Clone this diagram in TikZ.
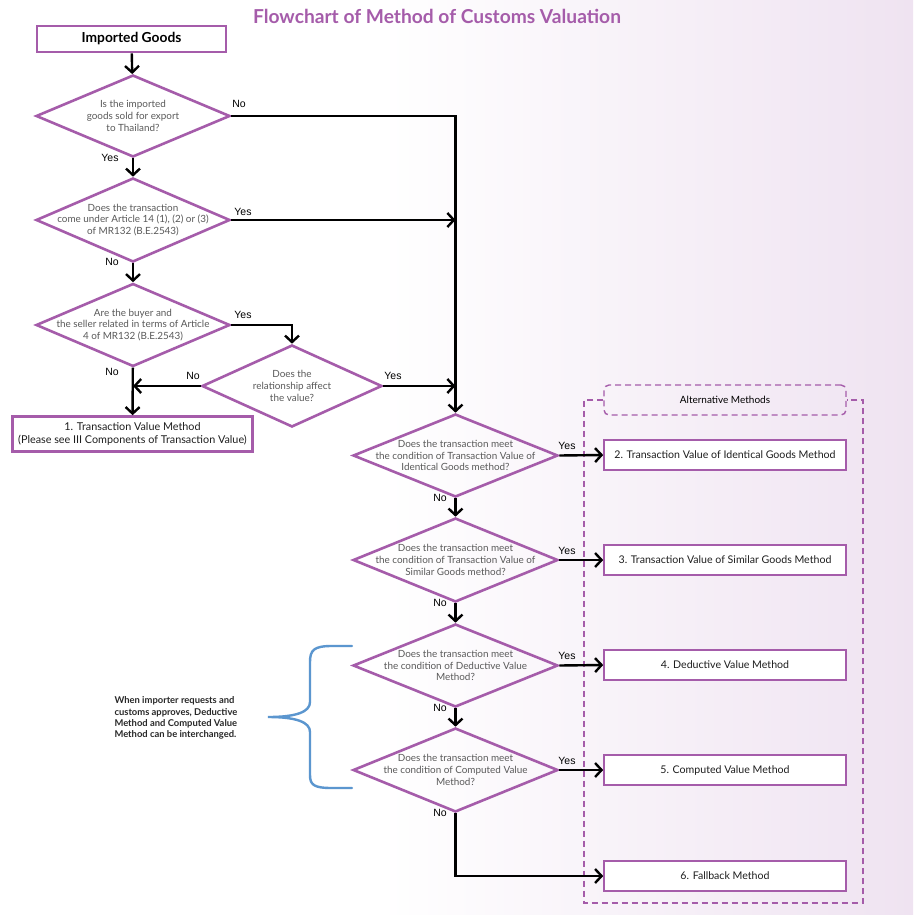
\documentclass[tikz,border=0pt]{standalone}
\usepackage{fontspec}
\setmainfont{Lato}
\newfontfamily\arialf{Liberation Sans}
\usetikzlibrary{shapes.geometric,arrows.meta}
\definecolor{pur}{RGB}{165,92,170}
\definecolor{bgp}{RGB}{239,227,241}
\definecolor{brc}{RGB}{91,150,207}
\definecolor{qgray}{RGB}{90,90,90}
\begin{document}
\begin{tikzpicture}[x=1pt,y=-1pt,
  dia/.style={draw=pur, line width=2.6pt, shape=diamond, inner sep=0pt},
  qtext/.style={font=\fontsize{9.9}{11.8}\selectfont, text=qgray, align=center},
  arr/.style={line width=2.4pt, -{Straight Barb[length=6.5pt,width=14pt]}},
  yn/.style={font=\arialf\fontsize{10.5}{12}\selectfont},
  mbox/.style={draw=pur, line width=1.6pt, fill=white, minimum width=242pt, minimum height=30pt, font=\fontsize{10.6}{12}\selectfont, text={rgb,255:red,30;green,30;blue,30}},
  bigbox/.style={draw=pur, line width=2.6pt, fill=white, align=center},
  grpdash/.style={draw=pur, line width=1.4pt, dash pattern=on 6pt off 4pt}
]
\useasboundingbox (0,0) rectangle (913,915);
\fill[white] (0,0) rectangle (913,915);
\shade[left color=white, right color=bgp] (380,0) rectangle (913,915);

% title
\node[font=\bfseries\fontsize{19.2}{22}\selectfont, text=pur] (title) at (437,16) {Flowchart of Method of Customs Valuation};

% start box
\node[bigbox, minimum width=189pt, minimum height=26pt, font=\bfseries\fontsize{13.8}{15}\selectfont] (imp) at (131.5,39) {Imported Goods};

% left diamonds
\node[dia, minimum width=194pt, minimum height=82pt] (d1) at (133,116) {};
\node[qtext] (t1) at (d1.center) {Is the imported\\goods sold for export\\to Thailand?};
\node[dia, minimum width=194pt, minimum height=84pt] (d2) at (133,220) {};
\node[qtext] (t2) at (d2.center) {Does the transaction\\come under Article 14 (1), (2) or (3)\\of MR132 (B.E.2543)};
\node[dia, minimum width=194pt, minimum height=83pt] (d3) at (133,325) {};
\node[qtext] (t3) at (d3.center) {Are the buyer and\\the seller related in terms of Article\\4 of MR132 (B.E.2543)};
\node[dia, minimum width=180pt, minimum height=82pt] (d3b) at (292,386) {};
\node[qtext] (t3b) at (d3b.center) {Does the\\relationship affect\\the value?};

\node[bigbox, minimum width=240pt, minimum height=35pt, font=\fontsize{10.8}{12.5}\selectfont, text={rgb,255:red,30;green,30;blue,30}] (box1) at (132.5,434) {1. Transaction Value Method\\(Please see III Components of Transaction Value)};

% right diamonds
\node[dia, minimum width=205pt, minimum height=83pt] (d4) at (455.5,455.5) {};
\node[qtext] (t4) at (d4.center) {Does the transaction meet\\the condition of Transaction Value of\\Identical Goods method?};
\node[dia, minimum width=205pt, minimum height=84pt] (d5) at (455.5,560) {};
\node[qtext] (t5) at (d5.center) {Does the transaction meet\\the condition of Transaction Value of\\Similar Goods method?};
\node[dia, minimum width=205pt, minimum height=83pt] (d6) at (455.5,665.5) {};
\node[qtext] (t6) at (d6.center) {Does the transaction meet\\the condition of Deductive Value\\Method?};
\node[dia, minimum width=205pt, minimum height=84pt] (d7) at (455.5,770) {};
\node[qtext] (t7) at (d7.center) {Does the transaction meet\\the condition of Computed Value\\Method?};

% alternative methods group
\node[grpdash, rounded corners=5pt, minimum width=242pt, minimum height=30pt, font=\fontsize{10}{12}\selectfont] (alt) at (725,400) {Alternative Methods};
\draw[grpdash] (alt.west) -- (584,400) -- (584,903) -- (863,903) -- (863,400) -- (alt.east);

\node[mbox] (b2) at (725,455) {2. Transaction Value of Identical Goods Method};
\node[mbox] (b3) at (725,560) {3. Transaction Value of Similar Goods Method};
\node[mbox] (b4) at (725,665) {4. Deductive Value Method};
\node[mbox] (b5) at (725,770) {5. Computed Value Method};
\node[mbox] (b6) at (725,876) {6. Fallback Method};

% connectors
\draw[arr] (imp) -- (d1);
\draw[arr] (d1.east) -- (d1.east -| d4.north) -- (d4.north);
\draw[arr] (d1) -- (d2);
\draw[arr] (d2.east) -- (d2.east -| d4.north);
\draw[arr] (d2) -- (d3);
\draw[arr] (d3.east) -- (d3.east -| d3b.north) -- (d3b.north);
\draw[arr] (d3) -- (box1);
\draw[arr] (d3b.west) -- (d3b.west -| d3.south);
\draw[arr] (d3b.east) -- (d3b.east -| d4.north);
\draw[arr] (d4) -- (d5);
\draw[arr] (d5) -- (d6);
\draw[arr] (d6) -- (d7);
\draw[arr] (d4.east) -- (b2.west);
\draw[arr] (d5.east) -- (b3.west);
\draw[arr] (d6.east) -- (b4.west);
\draw[arr] (d7.east) -- (b5.west);
\draw[arr] (d7.south) -- (d7.south |- b6.west) -- (b6.west);

% yes/no labels
\node[yn] (l1) at (239,104) {No};
\node[yn] (l2) at (110,158) {Yes};
\node[yn] (l3) at (243,212) {Yes};
\node[yn] (l4) at (112,262) {No};
\node[yn] (l5) at (243,315) {Yes};
\node[yn] (l6) at (112,372) {No};
\node[yn] (l7) at (193,376) {No};
\node[yn] (l8) at (393,376) {Yes};
\node[yn] (l9) at (567,446) {Yes};
\node[yn] (l10) at (567,551) {Yes};
\node[yn] (l11) at (567,656) {Yes};
\node[yn] (l12) at (567,761) {Yes};
\node[yn] (l13) at (440,498) {No};
\node[yn] (l14) at (440,603) {No};
\node[yn] (l15) at (440,708) {No};
\node[yn] (l16) at (440,813) {No};

% brace and note
\draw[brc, line width=2.4pt, line cap=round] (352,646) -- (332,646) .. controls (314,646) and (310,650) .. (310,662) -- (310,702) .. controls (310,712) and (296,717) .. (268,717) .. controls (296,717) and (310,722) .. (310,732) -- (310,775) .. controls (310,785) and (314,788) .. (332,788) -- (352,788);
\node[anchor=west, align=left, font=\fontsize{9.4}{11.2}\selectfont\bfseries, text={rgb,255:red,40;green,40;blue,40}] (note) at (111,718) {When importer requests and\\customs approves, Deductive\\Method and Computed Value\\Method can be interchanged.};
\end{tikzpicture}
\end{document}
